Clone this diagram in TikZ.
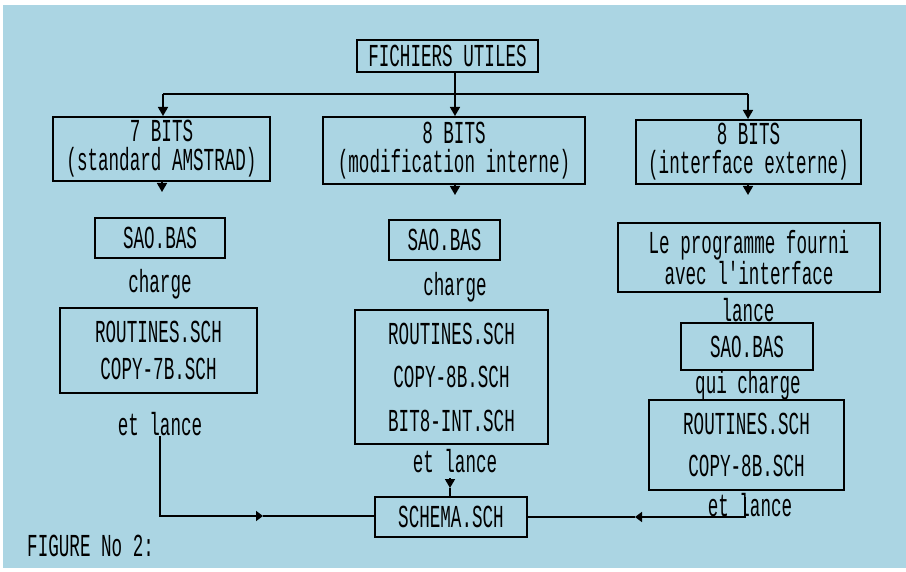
\documentclass[tikz,border=0pt]{standalone}
\usepackage{fontspec}
\newfontfamily\amsfont[FakeStretch=0.55]{Liberation Mono}
\usetikzlibrary{arrows.meta}
\definecolor{bgblue}{RGB}{171,213,227}
\begin{document}
\begin{tikzpicture}[x=1pt,y=-1pt,
  every node/.style={font=\amsfont\fontsize{32}{29}\selectfont, inner sep=0pt, text=black},
  box/.style={draw=black, line width=2pt, align=center},
  lbl/.style={},
  conn/.style={draw=black, line width=1.6pt},
  tip/.style={-{Triangle[length=9pt,width=10pt]}},
  midtip/.style={-{Triangle[length=7pt,width=10pt]}}
]
\useasboundingbox (0,0) rectangle (906,572);
\fill[white] (0,0) rectangle (906,572);
\fill[bgblue] (3,5) rectangle (906,568);

\node[box, minimum width=181pt, minimum height=32pt] (top) at (447.5,56) {FICHIERS UTILES};

\node[box, minimum width=217pt, minimum height=64pt] (b7) at (161.5,149) {7 BITS\\(standard AMSTRAD)};
\node[box, minimum width=262pt, minimum height=67pt] (b8i) at (454,150.5) {8 BITS\\(modification interne)};
\node[box, minimum width=225pt, minimum height=64pt] (b8e) at (748.5,152) {8 BITS\\(interface externe)};

\coordinate (hub) at (455,94);
\draw[conn] (top.south -| hub) -- (hub);
\draw[conn] (hub -| 163,0) -- (hub -| 748,0);
\coordinate (d7) at (163,94);
\coordinate (d8e) at (748,94);
\draw[conn, tip] (d7) -- (d7 |- b7.north);
\draw[conn, tip] (hub) -- (hub |- b8i.north);
\draw[conn, tip] (d8e) -- (d8e |- b8e.north);

% column 1
\coordinate (t1a) at (162,181);
\coordinate (t1b) at (162,192);
\draw[conn, tip] (t1a) -- (t1b);
\node[box, minimum width=130pt, minimum height=40pt] (sao1) at (160,238) {SAO.BAS};
\node[lbl] (ch1) at (160,284) {charge};
\node[box, minimum width=197pt, minimum height=85pt, font=\amsfont\fontsize{32}{37}\selectfont] (r1) at (158.5,350.5) {ROUTINES.SCH\\COPY-7B.SCH};
\node[lbl] (etl1) at (160,424) {et lance};

% column 2
\coordinate (t2a) at (455,184);
\coordinate (t2b) at (455,195);
\draw[conn, tip] (t2a) -- (t2b);
\node[box, minimum width=111pt, minimum height=40pt] (sao2) at (444.5,240) {SAO.BAS};
\node[lbl] (ch2) at (455,287) {charge};
\node[box, minimum width=193pt, minimum height=134pt, font=\amsfont\fontsize{32}{43.5}\selectfont] (r2) at (451.5,377) {ROUTINES.SCH\\COPY-8B.SCH\\BIT8-INT.SCH};
\node[lbl] (etl2) at (455,461) {et lance};

% column 3
\coordinate (t3a) at (748,184);
\coordinate (t3b) at (748,195);
\draw[conn, tip] (t3a) -- (t3b);
\node[box, minimum width=262pt, minimum height=69pt, font=\amsfont\fontsize{32}{28}\selectfont] (prog) at (749,257.5) {Le programme fourni\\avec l'interface};
\node[lbl] (lance) at (748,310) {lance};
\node[box, minimum width=132pt, minimum height=47pt] (sao3) at (747,346.5) {SAO.BAS};
\node[lbl] (qui) at (748,385) {qui charge};
\node[box, minimum width=195pt, minimum height=90pt, font=\amsfont\fontsize{32}{42}\selectfont] (r3) at (746.5,445) {ROUTINES.SCH\\COPY-8B.SCH};
\node[lbl] (etl3) at (750,505) {et lance};

% bottom
\node[box, minimum width=152pt, minimum height=40pt] (schema) at (451,517) {SCHEMA.SCH};

\coordinate (c1) at (160,516);
\coordinate (a1) at (263,516);
\draw[conn, midtip] (etl1.south -| c1) -- (c1) -- (a1);
\draw[conn] (a1) -- (a1 -| schema.west);

\coordinate (m1) at (450,478);
\coordinate (m2) at (450,488);
\draw[conn, tip] (m1) -- (m2);
\draw[conn] (m2) -- (m2 |- schema.north);

\coordinate (c3) at (745,517);
\coordinate (a3) at (635,517);
\draw[conn, midtip] (745,497) -- (c3) -- (a3);
\draw[conn] (a3) -- (a3 -| schema.east);

\node[anchor=west] (fig) at (27,546) {FIGURE No 2:};
\end{tikzpicture}
\end{document}
